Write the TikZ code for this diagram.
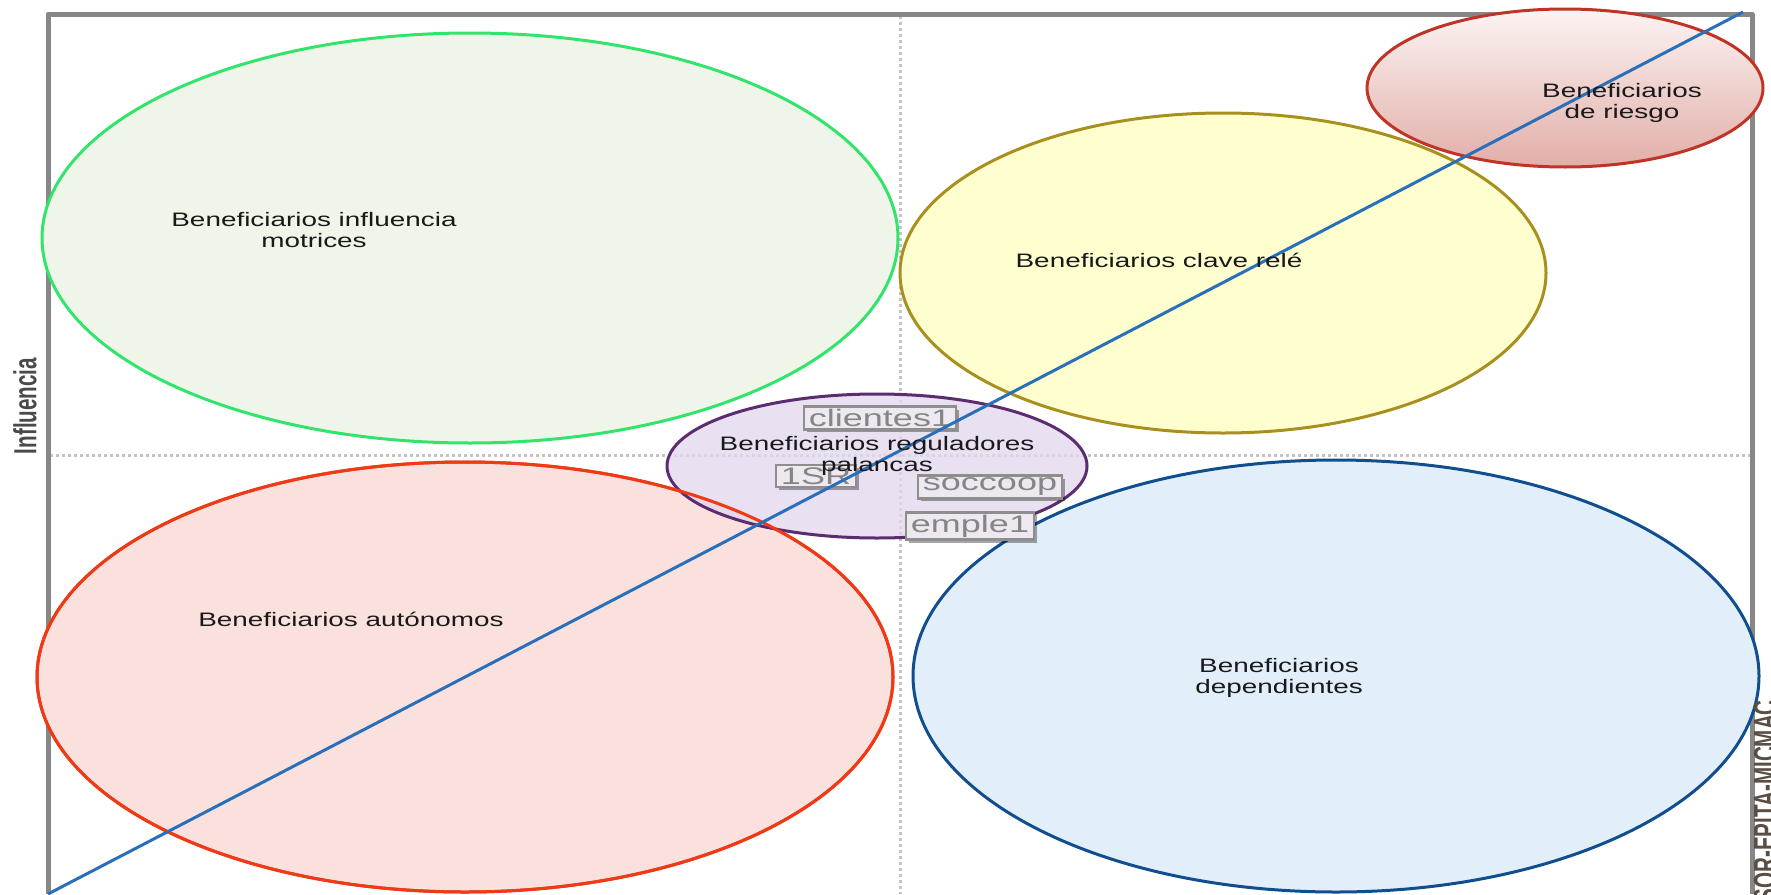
\documentclass[tikz,border=0pt]{standalone}
\usepackage{fontspec}
\setmainfont{Liberation Sans}
\newfontfamily\widefont[FakeStretch=1.43]{Liberation Sans}
\newfontfamily\tagfont[FakeStretch=1.5]{Liberation Sans}
\usetikzlibrary{shapes.geometric,shadows}

\definecolor{framegray}{HTML}{878787}
\definecolor{gridgray}{HTML}{C4C4C4}
\definecolor{diagblue}{HTML}{2A6FBA}
\definecolor{greenline}{HTML}{33E46C}
\definecolor{greenfill}{HTML}{EFF6E9}
\definecolor{yelline}{HTML}{A8901F}
\definecolor{yelfill}{HTML}{FEFECF}
\definecolor{riskline}{HTML}{BF3426}
\definecolor{risktop}{HTML}{FBF4F3}
\definecolor{riskbot}{HTML}{E2AEA8}
\definecolor{purpline}{HTML}{5C2D6E}
\definecolor{purpfill}{HTML}{E3D8EE}
\definecolor{redline}{HTML}{EE3A16}
\definecolor{redfill}{HTML}{FBE1DD}
\definecolor{blueline}{HTML}{114E8E}
\definecolor{bluefill}{HTML}{E2EFFB}
\definecolor{tagline}{HTML}{8E8E8E}
\definecolor{tagfill}{HTML}{EEE9F0}
\definecolor{tagtext}{HTML}{858585}
\definecolor{axistext}{HTML}{4A4A4A}
\definecolor{copytext}{HTML}{5A4E44}

\begin{document}
\begin{tikzpicture}[x=1pt,y=-1pt,
  zone/.style={ellipse, line width=3pt, inner sep=0pt},
  lbl/.style={align=center, text=black!90, inner sep=0pt,
    font=\widefont\fontsize{19.5}{20.7}\selectfont},
  tag/.style={draw=tagline, line width=2.5pt, fill=tagfill, text=tagtext,
    inner xsep=5pt, inner ysep=2.5pt,
    font=\tagfont\fontsize{24}{24}\selectfont,
    drop shadow={shadow xshift=3pt, shadow yshift=-3pt, opacity=0.35, fill=black}},
  midline/.style={gridgray, line width=3pt, dash pattern=on 3pt off 3pt},
  frameline/.style={framegray, line width=5pt, line join=round},
  diag/.style={diagblue, line width=3pt},
]
\useasboundingbox (0,0) rectangle (1771,894);
\clip (0,0) rectangle (1771,894);

% quadrant separators
\draw[midline] (900,16) -- (900,894);
\draw[midline] (50,455) -- (1750,455);

% chart frame
\draw[frameline] (48,894) -- (48,14) -- (1752,14) -- (1752,894);

% stakeholder groups
\node[zone, draw=greenline, fill=greenfill, minimum width=856pt, minimum height=410pt] (motrices) at (470,238) {};
\node[zone, draw=yelline, fill=yelfill, minimum width=646pt, minimum height=320pt] (rele) at (1223,273) {};
\node[zone, draw=riskline, top color=risktop, bottom color=riskbot, minimum width=396pt, minimum height=158pt] (riesgo) at (1565,88) {};
\node[zone, draw=blueline, fill=bluefill, minimum width=846pt, minimum height=432pt] (dependientes) at (1336,676) {};
\node[zone, draw=redline, fill=redfill, minimum width=856pt, minimum height=430pt] (autonomos) at (465,677) {};
\node[zone, draw=purpline, fill=purpfill, fill opacity=0.8, minimum width=420pt, minimum height=144pt] (palancas) at (877,466) {};
% outline of the autonomous group stays visible across the lever group
\draw[redline, line width=3pt] (autonomos.center) ellipse [x radius=428, y radius=215];

% variable tags
\node[tag] (t1) at (880,418) {clientes1};
\node[tag] (t2) at (816,476) {1SR};
\node[tag] (t3) at (990,487) {soccoop};
\node[tag] (t4) at (970,526) {emple1};

% diagonal
\coordinate (dA) at (48,894);
\coordinate (dB) at (1743,12);
\draw[diag] (dA) -- (dB);

% group labels
\node[lbl] at (314,230) {Beneficiarios influencia\\motrices};
\node[lbl] at (1159,260) {Beneficiarios clave relé};
\node[lbl] at (1622,103) {Beneficiarios\\de riesgo};
\node[lbl] at (877,456) {Beneficiarios reguladores\\palancas};
\node[lbl] at (351,619) {Beneficiarios autónomos};
\node[lbl] at (1279,678) {Beneficiarios\\dependientes};

% axis texts
\node[inner sep=0pt, text=axistext] (yax) at (25,406)
  {\scalebox{1.55}[1]{\rotatebox{90}{\fontsize{20.6}{20.6}\selectfont\bfseries Influencia}}};
\node[inner sep=0pt, anchor=north, text=copytext] (copy) at (1765,700)
  {\scalebox{1.55}[1]{\rotatebox{90}{\fontsize{20.6}{20.6}\selectfont\bfseries © LIPSOR-EPITA-MICMAC}}};
\end{tikzpicture}
\end{document}
